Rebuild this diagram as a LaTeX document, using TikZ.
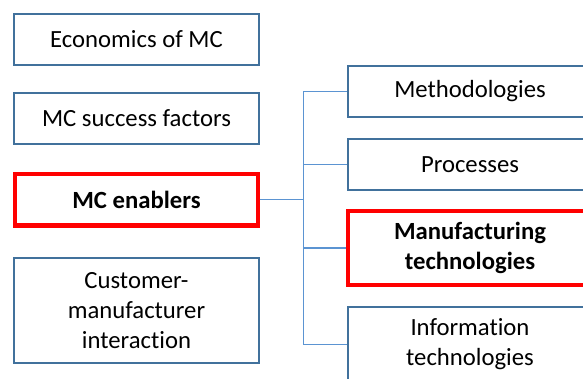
\documentclass[tikz,border=0pt]{standalone}
\usepackage{fontspec}
\setmainfont[Ligatures=NoCommon]{Carlito}
\usepackage{tikz}
\usetikzlibrary{positioning}
\definecolor{mcblue}{RGB}{65,113,156}
\definecolor{mclink}{RGB}{91,148,210}
\definecolor{mcred}{RGB}{255,0,0}
\tikzstyle{topic} = [rectangle, draw=mcblue, line width=2pt, fill=white, minimum width=245pt, minimum height=51pt, align=center, font=\fontsize{24.7}{29.8}\selectfont]
\tikzstyle{focus} = [topic, draw=mcred, line width=4.5pt, minimum width=243pt, font=\fontsize{24.7}{29.8}\selectfont\bfseries]
\tikzstyle{link} = [line width=1pt, color=mclink]

\begin{document}
\begin{tikzpicture}[x=1pt, y=-1pt]
\useasboundingbox (0,0) rectangle (583,379);
\clip (0,0) rectangle (583,379);
% Left column
\node (econ) [topic] at (136.5,39.5) {Economics of MC};
\node (succ) [topic, below=26pt of econ] {MC success factors};
\node (enab) [focus, below=27pt of succ, minimum height=51.5pt] {MC enablers};
\node (cust) [topic, below=29pt of enab, minimum height=105pt] {Customer-\\manufacturer\\interaction};

% Right column
\node (meth) [topic, minimum width=244pt] at (470,91.5) {Methodologies};
\node (proc) [topic, below=20pt of meth, minimum width=244pt] {Processes};
\node (manu) [focus, below=18pt of proc, minimum width=244pt, minimum height=73.5pt] {Manufacturing\\technologies};
\node (info) [topic, below=19pt of manu, minimum width=244pt, minimum height=74pt] {Information\\technologies};

% Connections
\coordinate (bus) at (303,0);
\draw[link] (enab.east) -- (enab.east -| bus);
\draw[link] (meth.west -| bus) -- (info.west -| bus);
\foreach \n in {meth,proc,manu,info}
  \draw[link] (\n.west -| bus) -- (\n.west);
\end{tikzpicture}
\end{document}
